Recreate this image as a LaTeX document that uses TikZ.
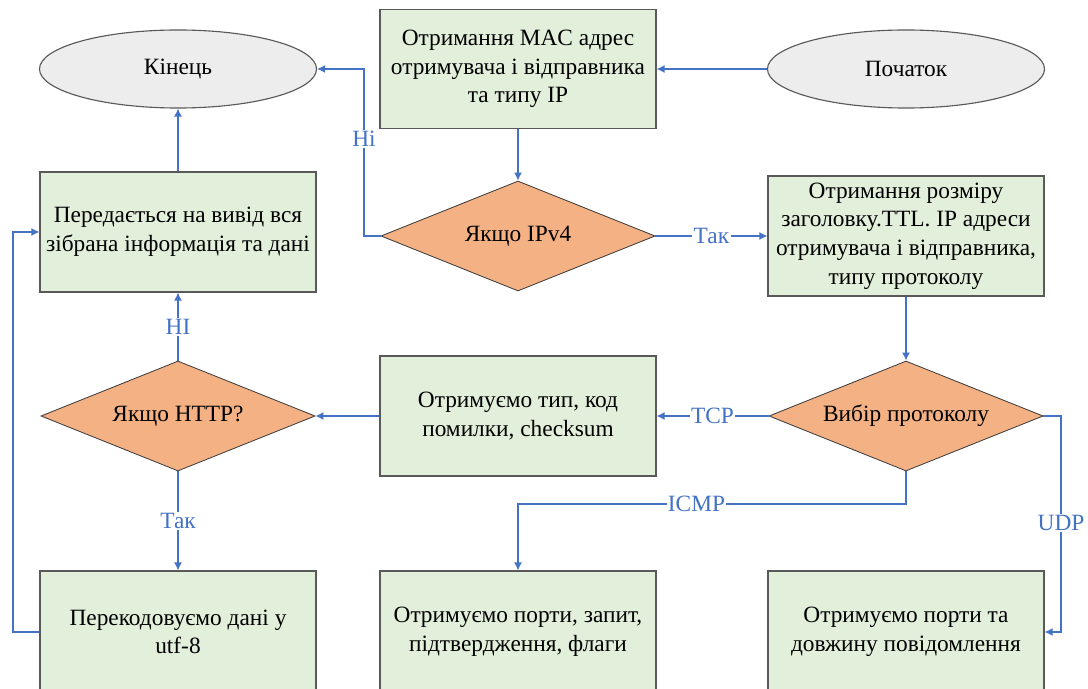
\documentclass[tikz,border=0pt]{standalone}
\usepackage{fontspec}
\setmainfont{Liberation Serif}
\usepackage{xcolor}
\usepackage{tikz}
\usetikzlibrary{shapes.geometric,arrows.meta}
\definecolor{zelenyj}{HTML}{E2EFDA}
\definecolor{siryj}{HTML}{EDEDED}
\definecolor{oranzh}{HTML}{F4B183}
\definecolor{synij}{HTML}{4472C4}
\definecolor{kontur}{HTML}{595959}

\begin{document}
\begin{tikzpicture}[x=0.025cm, y=-0.025cm,
	font=\fontsize{16.6}{20.3}\selectfont,
	blok/.style={draw=kontur, fill=zelenyj, line width=0.8pt, minimum width=6.9cm, minimum height=3cm, align=center, inner sep=0pt},
	ovall/.style={ellipse, draw=kontur, fill=siryj, line width=0.8pt, minimum width=6.925cm, minimum height=1.95cm, inner sep=0pt},
	romb/.style={diamond, aspect=2.5, draw=kontur!70!black, fill=oranzh, line width=0.6pt, minimum width=6.85cm, minimum height=2.75cm, inner sep=0pt},
	strilka/.style={draw=synij, line width=0.9pt, -{Latex[length=2mm, width=2mm]}},
	mitka/.style={fill=white, text=synij, inner sep=1pt}]
			\useasboundingbox (0,0) rectangle (1088,689);
			% Вузли
			\node[ovall] (kin) at (178,69) {Кінець};
			\node[blok, minimum height=2.975cm] (mac) at (518,69) {Отримання MAC адрес\\отримувача і відправника\\та типу IP};
			\node[ovall] (poch) at (906,69) {Початок};
			\node[blok] (vyvid) at (178,232) {Передається на вивід вся\\зібрана інформація та дані};
			\node[romb] (ipv4) at (518,236) {Якщо IPv4};
			\node[blok] (zagol) at (906,236) {Отримання розміру\\заголовку.TTL. IP адреси\\отримувача і відправника,\\типу протоколу};
			\node[romb] (http) at (178,416) {Якщо HTTP?};
			\node[blok] (typ) at (518,416) {Отримуємо тип, код\\помилки, checksum};
			\node[romb] (vybir) at (906,416) {Вибір протоколу};
			\node[blok, minimum height=3.05cm] (perekod) at (178,632) {Перекодовуємо дані у\\utf-8};
			\node[blok, minimum height=3.05cm] (porty) at (518,632) {Отримуємо порти, запит,\\підтвердження, флаги};
			\node[blok, minimum height=3.05cm] (udp) at (906,632) {Отримуємо порти та\\довжину повідомлення};
			% Точки зламу
			\coordinate (nik) at (364,69);
			\coordinate (icmpk) at (906,504);
			\coordinate (udpk) at (1061,523);
			\coordinate (nazad) at (13,232);
			% Стрілки
			\draw[strilka] (poch) -- (mac);
			\draw[strilka] (mac) -- (ipv4);
			\draw[strilka] (ipv4.west) -| (nik) node[mitka, pos=0.79] {Ні} -- (kin.east);
			\draw[strilka] (ipv4) -- node[mitka] {Так} (zagol);
			\draw[strilka] (zagol) -- (vybir);
			\draw[strilka] (vybir) -- node[mitka] {TCP} (typ);
			\draw[strilka] (vybir.south) -- (icmpk) -| node[mitka, pos=0.27] {ICMP} (porty.north);
			\draw[strilka] (vybir.east) -| (udpk) node[mitka] {UDP} |- (udp.east);
			\draw[strilka] (typ) -- (http);
			\draw[strilka] (http) -- node[mitka] {Так} (perekod);
			\draw[strilka] (http) -- node[mitka] {НІ} (vyvid);
			\draw[strilka] (perekod.west) -| (nazad) -- (vyvid.west);
			\draw[strilka] (vyvid) -- (kin);
		\end{tikzpicture}
\end{document}
